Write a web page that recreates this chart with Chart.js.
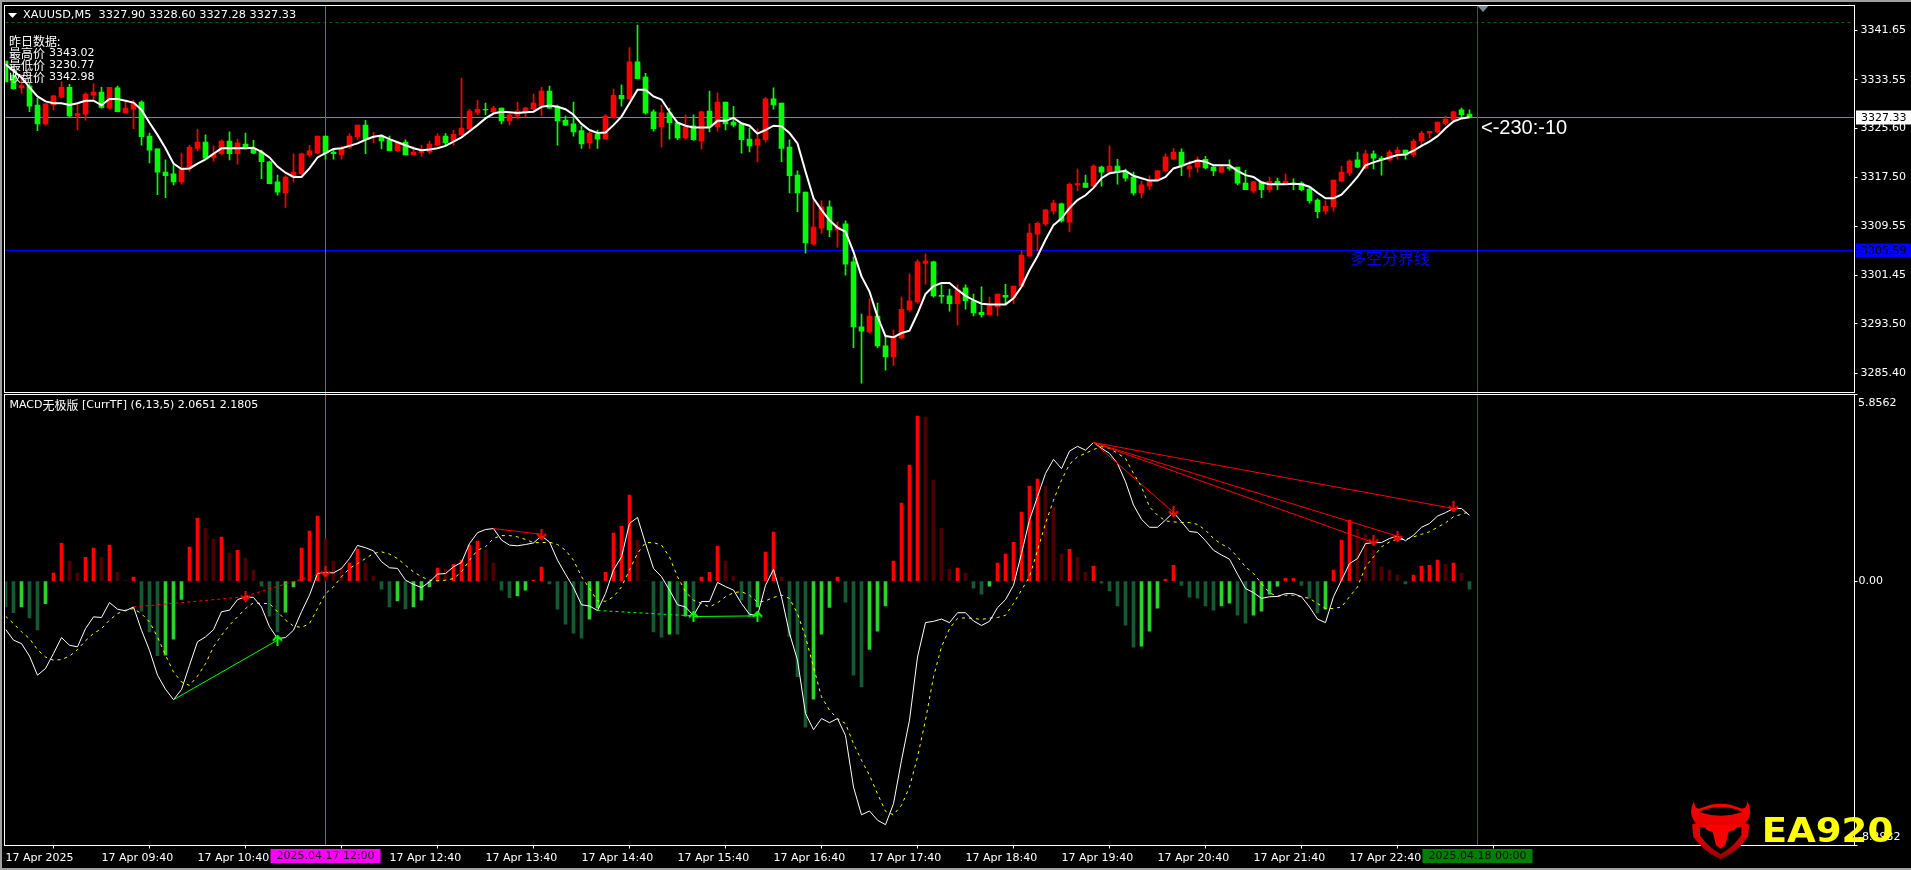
<!DOCTYPE html>
<html>
<head>
<meta charset="utf-8">
<title>XAUUSD,M5</title>
<script src="https://cdn.jsdelivr.net/npm/chart.js@4"></script>
<style>
  html, body { margin: 0; padding: 0; background: #000; overflow: hidden; }
  #page { position: relative; width: 1911px; height: 870px; background: #000; overflow: hidden; }
  #priceChart { position: absolute; left: 0; top: 0; }
  #macdChart { position: absolute; left: 0; top: 393px; }
  .edge { position: absolute; background: #a0a0a0; }
  #logo { position: absolute; left: 1680px; top: 790px; }
</style>
</head>
<body>
<div id="page">
  <canvas id="priceChart" width="1911" height="393"></canvas>
  <canvas id="macdChart" width="1911" height="477"></canvas>
  <div class="edge" style="left:0;top:0;width:1911px;height:2px"></div>
  <div class="edge" style="left:0;top:0;width:2px;height:870px"></div>
  <div class="edge" style="left:0;top:868px;width:1911px;height:2px"></div>
  <svg id="logo" width="231" height="80" viewBox="0 0 693 240">
    <defs>
      <linearGradient id="bull" x1="0" y1="0" x2="0" y2="1">
        <stop offset="0" stop-color="#ff0000"/>
        <stop offset="0.6" stop-color="#e00000"/>
        <stop offset="1" stop-color="#8c0000"/>
      </linearGradient>
    </defs>
    <path d="M42 34 Q22 72 48 100 L36 104 L40 140 Q70 185 122 208 Q174 185 204 140 L208 104 L196 100 Q222 72 202 34 Q200 62 180 54 Q122 28 64 54 Q44 62 42 34 Z" fill="url(#bull)"/>
    <path d="M56 66 Q122 36 188 66 Q122 88 56 66 Z" fill="#000"/>
    <path d="M60 112 L184 112 L184 136 Q160 172 122 192 Q84 172 60 136 Z" fill="#000"/>
    <path d="M70 106 L174 106 L164 120 L146 126 L136 166 L122 176 L108 166 L98 126 L80 120 Z" fill="#ff0000"/>
    <text x="245" y="155" font-family="DejaVu Sans" font-weight="bold" font-size="103" fill="#ffff00" textLength="395" lengthAdjust="spacingAndGlyphs">EA920</text>
  </svg>
</div>
<script>
// candles, one per 5 minutes from 08:40
const opens = [
  3336.6,3334.3,3332.2,3332.5,3329.4,3326.3,3329.4,3330.7,3332.3,3327.6,
  3327.9,3331.0,3331.5,3328.9,3332.2,3328.1,3328.7,3329.9,3324.3,3322.2,
  3318.4,3318.1,3316.8,3319.0,3322.3,3323.3,3320.8,3321.4,3323.5,3321.4,
  3323.0,3322.3,3321.7,3320.1,3316.8,3315.0,3317.6,3318.1,3321.2,3321.5,
  3324.3,3321.7,3321.2,3322.5,3324.2,3326.1,3324.1,3324.3,3323.7,3321.9,
  3323.3,3321.2,3321.6,3321.7,3322.8,3324.3,3323.5,3324.5,3325.5,3328.2,
  3328.7,3328.3,3328.9,3326.8,3327.6,3328.1,3328.7,3329.2,3331.7,3329.1,
  3326.9,3326.3,3325.2,3323.2,3324.6,3323.8,3327.3,3331.0,3330.4,3336.5,
  3334.0,3328.3,3325.8,3328.1,3326.5,3324.0,3326.0,3323.5,3328.4,3325.8,
  3329.9,3326.6,3326.3,3323.8,3322.8,3323.7,3330.4,3329.7,3322.5,3317.9,
  3315.1,3306.6,3309.2,3312.7,3308.9,3309.9,3303.7,3293.0,3292.2,3294.8,
  3289.9,3288.1,3291.2,3295.8,3297.1,3303.4,3303.7,3298.2,3298.1,3296.8,
  3299.4,3297.3,3295.4,3295.0,3296.3,3298.2,3297.8,3299.7,3304.6,3308.2,
  3309.9,3312.0,3313.2,3310.2,3316.3,3316.6,3316.1,3319.2,3318.4,3319.4,
  3318.4,3317.6,3315.0,3316.1,3317.1,3318.6,3320.5,3321.7,3318.9,3319.2,
  3320.5,3319.2,3318.4,3319.2,3319.2,3316.6,3315.3,3316.8,3315.5,3316.9,
  3316.4,3316.6,3316.6,3315.6,3313.8,3312.0,3312.7,3316.9,3318.3,3320.4,
  3319.1,3321.4,3320.7,3320.4,3321.5,3322.0,3321.2,3323.5,3324.8,3325.0,
  3326.4,3326.9,3328.6,3327.9
];
const closes = [
  3333.2,3332.1,3332.6,3329.2,3326.3,3329.6,3330.9,3332.3,3327.6,3328.0,
  3331.2,3331.5,3329.0,3332.3,3328.3,3328.9,3329.7,3324.2,3322.0,3318.4,
  3317.8,3316.8,3319.1,3322.5,3323.3,3320.7,3321.4,3323.5,3321.4,3323.2,
  3322.3,3321.5,3320.1,3316.5,3315.1,3317.6,3318.4,3321.4,3321.9,3324.3,
  3321.5,3321.4,3322.2,3324.3,3326.1,3323.8,3324.2,3323.5,3321.9,3323.3,
  3321.2,3321.7,3322.0,3323.0,3324.3,3323.2,3324.6,3325.6,3328.4,3328.7,
  3328.6,3328.9,3326.8,3327.8,3328.4,3328.9,3329.7,3331.7,3328.9,3326.8,
  3326.1,3325.0,3323.0,3324.8,3323.8,3327.6,3331.0,3330.4,3336.5,3333.7,
  3328.1,3325.5,3328.1,3326.5,3324.0,3325.8,3323.7,3328.3,3325.8,3329.9,
  3326.3,3326.1,3323.7,3322.7,3323.8,3330.4,3329.4,3322.3,3317.8,3315.0,
  3306.8,3309.4,3312.7,3308.9,3309.4,3303.3,3293.0,3292.3,3294.8,3289.9,
  3288.1,3291.4,3295.9,3297.3,3303.7,3303.8,3298.1,3298.0,3296.8,3299.1,
  3297.3,3295.3,3295.0,3296.4,3298.4,3297.9,3299.7,3304.8,3308.4,3310.0,
  3312.2,3313.3,3310.4,3316.4,3316.5,3315.9,3319.4,3318.4,3319.4,3318.3,
  3317.4,3315.0,3316.3,3316.9,3318.6,3320.9,3321.7,3319.4,3319.4,3320.4,
  3319.1,3318.6,3319.2,3319.0,3316.6,3315.5,3316.8,3315.5,3316.9,3316.4,
  3316.9,3316.5,3315.5,3313.7,3311.9,3312.8,3317.1,3318.4,3320.2,3319.2,
  3321.4,3320.7,3320.4,3321.7,3322.0,3321.2,3323.5,3324.8,3325.1,3326.6,
  3327.1,3328.3,3327.8,3327.33
];
const highs = [
  3336.6,3334.3,3334.3,3332.9,3330.5,3329.6,3331.0,3333.2,3332.8,3329.7,
  3331.4,3332.9,3332.3,3332.3,3332.5,3329.9,3330.2,3330.1,3324.8,3322.2,
  3320.4,3319.6,3321.5,3322.8,3325.4,3324.5,3322.7,3323.7,3325.0,3323.8,
  3324.8,3323.6,3322.0,3320.2,3317.9,3317.8,3321.4,3321.5,3322.8,3324.3,
  3324.3,3322.1,3322.6,3324.7,3326.1,3326.9,3324.9,3324.5,3324.3,3323.5,
  3323.7,3322.6,3322.8,3323.5,3324.7,3324.7,3325.3,3333.8,3328.7,3330.2,
  3329.7,3329.2,3328.9,3328.1,3329.9,3329.0,3331.2,3332.3,3332.5,3329.4,
  3327.6,3329.9,3325.9,3325.0,3325.3,3327.8,3332.0,3332.7,3338.8,3342.5,
  3334.6,3328.6,3329.4,3328.9,3326.6,3327.8,3327.8,3328.4,3331.7,3331.4,
  3329.9,3329.2,3326.4,3325.6,3325.5,3330.6,3332.2,3329.7,3323.7,3318.6,
  3315.1,3314.0,3313.7,3313.7,3310.2,3310.4,3304.5,3295.1,3297.6,3296.9,
  3291.7,3292.5,3297.9,3301.7,3304.0,3305.0,3303.8,3299.9,3299.2,3299.9,
  3299.9,3298.4,3299.6,3297.9,3298.4,3300.0,3299.7,3305.5,3309.9,3310.2,
  3312.3,3313.8,3313.3,3316.6,3318.9,3317.9,3319.6,3319.4,3322.7,3320.5,
  3318.9,3318.4,3316.9,3317.8,3318.7,3321.4,3322.3,3322.2,3320.2,3320.9,
  3321.0,3319.6,3319.4,3320.4,3319.2,3318.7,3316.9,3316.9,3317.6,3317.4,
  3318.1,3317.3,3316.8,3315.9,3314.0,3313.7,3317.1,3319.4,3320.4,3321.7,
  3322.0,3321.9,3321.0,3322.0,3322.5,3322.0,3323.8,3325.1,3325.1,3326.6,
  3327.6,3328.4,3328.9,3328.6
];
const lows = [
  3333.2,3332.0,3331.3,3328.3,3325.2,3326.1,3328.6,3330.7,3327.5,3325.3,
  3326.9,3330.2,3328.9,3328.7,3328.3,3328.1,3325.5,3322.8,3319.9,3314.7,
  3314.2,3316.3,3316.4,3318.5,3321.9,3320.6,3320.2,3321.2,3320.4,3319.7,
  3322.2,3321.4,3317.3,3316.5,3314.6,3312.6,3316.8,3318.0,3320.9,3321.4,
  3320.5,3320.5,3320.5,3322.3,3323.7,3321.4,3323.2,3322.2,3321.9,3321.7,
  3321.2,3321.2,3321.0,3321.4,3322.7,3322.8,3322.8,3324.5,3325.3,3327.8,
  3327.8,3328.1,3326.3,3326.1,3327.1,3327.4,3328.6,3327.6,3328.9,3322.8,
  3326.0,3324.3,3322.3,3322.3,3322.3,3323.8,3327.3,3329.2,3330.3,3333.7,
  3327.9,3325.1,3322.5,3323.8,3323.7,3323.8,3323.6,3322.2,3325.0,3325.1,
  3325.3,3325.8,3321.5,3321.7,3320.1,3323.3,3328.7,3320.1,3315.0,3311.9,
  3305.1,3306.4,3308.4,3307.8,3306.1,3301.5,3289.6,3283.8,3292.0,3289.6,
  3285.9,3286.7,3291.0,3295.6,3296.9,3300.0,3297.9,3296.9,3295.6,3293.3,
  3295.9,3294.8,3294.6,3295.0,3294.8,3296.8,3296.8,3299.7,3304.6,3305.5,
  3309.6,3311.5,3310.2,3308.6,3315.3,3315.9,3316.1,3316.1,3318.3,3316.4,
  3316.9,3314.6,3314.2,3315.5,3316.9,3318.4,3320.4,3317.8,3317.6,3318.4,
  3318.9,3317.8,3318.3,3318.7,3316.3,3315.5,3315.0,3314.2,3315.1,3315.5,
  3316.3,3315.5,3315.3,3313.3,3310.9,3311.5,3312.0,3316.8,3317.8,3319.1,
  3318.9,3318.9,3317.9,3320.2,3320.5,3320.5,3320.9,3322.8,3324.0,3324.8,
  3326.1,3326.8,3327.3,3327.28
];
const maLine = [
  3336.1,3335.0,3333.9,3332.3,3330.8,3330.0,3329.7,3329.7,3329.4,3329.7,
  3330.1,3330.1,3329.4,3330.4,3330.4,3330.1,3329.8,3328.6,3326.5,3324.5,
  3322.3,3319.8,3318.9,3319.0,3319.8,3320.5,3321.4,3322.3,3322.3,3322.3,
  3322.3,3322.4,3321.7,3320.8,3319.3,3318.3,3317.6,3317.6,3319.0,3320.8,
  3321.5,3322.2,3322.3,3322.7,3323.1,3323.7,3324.2,3324.4,3323.8,3323.3,
  3322.8,3322.3,3322.0,3322.1,3322.3,3322.7,3323.4,3324.1,3325.1,3326.1,
  3327.2,3328.0,3328.3,3328.2,3328.1,3328.2,3328.3,3329.1,3329.3,3329.1,
  3328.7,3327.8,3326.3,3325.3,3324.8,3324.9,3326.1,3327.5,3329.7,3331.9,
  3331.9,3330.8,3330.3,3328.3,3326.5,3326.0,3325.7,3325.7,3325.7,3326.8,
  3326.8,3327.3,3326.4,3326.0,3324.7,3325.3,3326.0,3325.9,3324.8,3323.1,
  3318.5,3314.1,3312.2,3310.5,3309.3,3308.6,3305.3,3301.3,3298.8,3294.7,
  3291.5,3291.3,3292.0,3292.4,3295.2,3298.4,3299.7,3300.2,3300.2,3299.1,
  3298.1,3297.4,3296.8,3296.7,3296.7,3296.7,3297.7,3299.6,3302.3,3304.6,
  3307.3,3309.7,3310.8,3312.5,3313.8,3314.6,3315.8,3317.4,3318.2,3318.4,
  3318.6,3317.8,3317.4,3317.0,3317.0,3317.6,3319.0,3319.4,3319.9,3320.3,
  3320.1,3319.5,3319.5,3319.5,3318.6,3317.9,3317.6,3316.7,3316.4,3316.4,
  3316.4,3316.5,3316.4,3316.0,3315.0,3314.1,3314.1,3314.7,3316.1,3317.6,
  3319.5,3320.0,3320.4,3320.8,3321.2,3321.3,3321.9,3322.7,3323.4,3324.3,
  3325.6,3326.7,3327.2,3327.4
];

// MACD panel
const histValues = [
  -0.81,-0.99,-0.81,-1.15,-1.53,-0.71,0.25,1.19,0.63,0.25,
  0.75,1.04,0.75,1.13,0.28,0.02,0.13,-0.94,-1.59,-2.34,
  -2.32,-1.82,-0.57,1.07,1.98,1.66,1.32,1.38,0.88,0.97,
  0.72,0.35,-0.16,-1.10,-1.59,-0.97,-0.18,1.04,1.57,2.04,
  1.32,0.63,0.41,0.57,1.00,0.57,0.16,-0.25,-0.81,-0.62,
  -0.87,-0.81,-0.60,-0.18,0.41,0.38,0.53,0.66,1.13,1.26,
  0.97,0.57,-0.28,-0.52,-0.46,-0.28,0.03,0.44,-0.09,-0.88,
  -1.35,-1.63,-1.79,-1.19,-0.85,0.28,1.51,1.73,2.70,1.29,
  0.02,-1.59,-1.76,-1.66,-1.66,-1.10,-1.02,0.13,0.28,1.10,
  0.63,0.16,-0.60,-1.12,-0.81,0.91,1.54,0.13,-1.73,-3.00,
  -4.58,-3.70,-1.66,-0.82,0.13,-0.66,-2.95,-3.32,-2.14,-1.57,
  -0.78,0.63,2.45,3.64,5.18,5.15,3.17,1.66,0.38,0.41,
  0.25,-0.22,-0.41,-0.16,0.57,0.85,1.22,2.17,2.98,3.20,
  2.98,2.32,0.85,1.00,0.75,0.28,0.47,-0.06,-0.31,-0.78,
  -1.38,-2.07,-2.04,-1.57,-0.85,0.06,0.50,-0.13,-0.50,-0.53,
  -0.78,-0.91,-0.78,-0.69,-1.07,-1.32,-1.07,-0.94,-0.41,-0.16,
  0.09,0.09,-0.13,-0.53,-1.00,-0.88,0.35,1.29,1.92,1.63,
  1.48,0.97,0.44,0.35,0.19,-0.09,0.19,0.47,0.50,0.66,
  0.53,0.57,0.25,-0.25
];
// R bright red, D dark red, G bright green, H dark green
const histKinds = (
  'HHGHHGRRDD' + 'RRDRDDRHHH' + 'GGGRRDDRDR' + 'DDHHHGGRRR' + 'DDDRRDDHHG' + 'HGGGRDRRRR' +
  'DDHHGGRRHH' + 'HHHGGRRRRD' + 'DHHGHGHRRR' + 'DDHHGRRDHH' + 'HGGGRHHHGG' + 'GRRRRDDDDR' +
  'DHHGRRRRRR' + 'DDDRDDRHHH' + 'HHGGGRRHHH' + 'HHGGHHGGGG' + 'RRHHHGRRRD' + 'DDDDDHRRRR' +
  'DRDH'
).split('');
const macdLine = [
  -1.51,-1.85,-1.96,-2.35,-2.95,-2.74,-2.27,-1.77,-2.01,-2.06,
  -1.49,-1.12,-1.14,-0.67,-0.88,-0.93,-0.81,-1.54,-2.17,-2.95,
  -3.39,-3.72,-3.40,-2.64,-1.90,-1.75,-1.52,-0.96,-0.91,-0.58,
  -0.49,-0.51,-0.81,-1.43,-1.80,-1.77,-1.54,-0.96,-0.44,0.24,
  0.27,0.26,0.40,0.71,1.12,1.05,0.95,0.61,0.42,0.40,
  0.03,-0.10,-0.20,-0.02,0.22,0.24,0.45,0.59,1.18,1.52,
  1.62,1.65,1.29,1.13,1.11,1.15,1.20,1.42,1.23,0.66,
  0.22,-0.20,-0.74,-0.78,-0.92,-0.39,0.35,0.76,1.81,2.00,
  1.18,0.40,0.14,-0.28,-0.74,-0.81,-1.08,-0.64,-0.64,-0.04,
  -0.17,-0.28,-0.70,-1.04,-1.08,-0.13,0.37,-0.49,-1.64,-2.48,
  -4.15,-4.66,-4.31,-4.44,-4.31,-4.84,-6.46,-7.33,-7.21,-7.50,
  -7.64,-6.98,-5.62,-4.36,-2.38,-1.30,-1.26,-1.19,-1.30,-0.99,
  -0.99,-1.25,-1.39,-1.26,-0.83,-0.58,-0.13,0.87,1.92,2.65,
  3.38,3.82,3.53,4.08,4.23,4.11,4.35,4.17,4.01,3.69,
  3.12,2.39,1.94,1.69,1.69,1.92,2.16,1.86,1.56,1.53,
  1.27,0.97,0.82,0.69,0.22,-0.23,-0.36,-0.54,-0.49,-0.48,
  -0.39,-0.39,-0.49,-0.81,-1.19,-1.30,-0.49,0.03,0.55,0.71,
  1.18,1.21,1.21,1.34,1.41,1.27,1.44,1.69,1.81,2.04,
  2.15,2.28,2.28,2.0651
];
const signalLine = [
  -1.10,-1.33,-1.59,-1.80,-2.15,-2.38,-2.48,-2.46,-2.35,-2.15,
  -1.87,-1.64,-1.49,-1.22,-1.02,-0.91,-0.86,-1.02,-1.28,-1.75,
  -2.32,-2.85,-3.16,-3.27,-2.98,-2.59,-2.06,-1.70,-1.38,-1.12,
  -0.86,-0.68,-0.70,-0.70,-0.96,-1.22,-1.41,-1.45,-1.33,-0.86,
  -0.39,-0.18,0.14,0.40,0.55,0.71,0.87,0.92,0.85,0.71,
  0.50,0.29,0.14,0.03,0.01,0.03,0.08,0.29,0.66,0.97,
  1.08,1.34,1.43,1.43,1.39,1.31,1.21,1.21,1.22,1.15,
  0.97,0.66,0.14,-0.23,-0.62,-0.63,-0.49,-0.18,0.35,0.87,
  1.21,1.21,1.13,0.76,0.14,-0.33,-0.60,-0.70,-0.81,-0.68,
  -0.49,-0.36,-0.33,-0.44,-0.66,-0.62,-0.51,-0.44,-0.54,-1.02,
  -1.75,-2.69,-3.63,-4.05,-4.31,-4.47,-5.10,-5.62,-6.09,-6.67,
  -7.22,-7.33,-7.03,-6.46,-5.52,-4.36,-3.00,-2.06,-1.49,-1.17,
  -1.15,-1.17,-1.20,-1.16,-1.14,-1.07,-0.70,-0.28,0.14,0.97,
  1.81,2.54,3.17,3.67,3.90,4.01,4.13,4.22,4.17,4.01,
  3.85,3.38,2.96,2.33,2.07,1.89,1.86,1.84,1.84,1.78,
  1.60,1.34,1.16,1.03,0.76,0.45,0.24,-0.07,-0.37,-0.47,
  -0.44,-0.44,-0.49,-0.54,-0.70,-0.86,-0.86,-0.81,-0.49,-0.18,
  0.45,0.76,1.08,1.23,1.32,1.31,1.39,1.47,1.55,1.69,
  1.83,2.02,2.10,2.1805
];
// divergence lines: from bar, from value, to bar, to value
const redSolidLines = [[61,1.65,67,1.47],[136,4.35,146,2.16],[136,4.35,171,1.21],[136,4.35,174,1.41],[136,4.35,181,2.28]];
const redDashedLines = [[16,-0.81,30,-0.49],[30,-0.47,40,0.29]];
const greenSolidLines = [[21,-3.72,34,-1.85],[86,-1.11,94,-1.09]];
const greenDashedLines = [[74,-0.92,86,-1.09]];
const sellArrowBars = [30,40,67,146,171,174,181];
const sellArrowValues = [-0.47,0.29,1.47,2.18,1.29,1.41,2.33];
const buyArrowBars = [34,86,94];
const buyArrowValues = [-1.85,-1.12,-1.10];

// axes
const priceTicks = [3341.65,3333.55,3325.60,3317.50,3309.55,3301.45,3293.50,3285.40];
const macdTicks = [5.8562,0,-8.2932];
const timeTickBars = [0,12,24,36,48,60,72,84,96,108,120,132,144,156,168,180];
const timeTickLabels = ['17 Apr 2025','17 Apr 09:40','17 Apr 10:40','','17 Apr 12:40','17 Apr 13:40','17 Apr 14:40','17 Apr 15:40','17 Apr 16:40','17 Apr 17:40','17 Apr 18:40','17 Apr 19:40','17 Apr 20:40','17 Apr 21:40','17 Apr 22:40',''];
const lastBarCount = 231.125;
const magentaBar = 40;
const greenBar = 184;
const bidPrice = 3327.33;
const pivotPrice = 3305.59;
const prevClose = 3342.98;

const UI_FONT = '"DejaVu Sans", "Noto Sans CJK SC", sans-serif';
const CJK_FONT = '"Noto Sans CJK SC", "DejaVu Sans", sans-serif';
const histColors = { R: '#ff0000', D: '#500000', G: '#32cd32', H: '#145a32' };

const toPoints = (arr) => arr.map((v, i) => ({ x: i, y: v }));

function segmentDatasets(lines, color, dash) {
  return lines.map((l) => ({
    type: 'line',
    data: [{ x: l[0], y: l[1] }, { x: l[2], y: l[3] }],
    borderColor: color,
    borderWidth: 1,
    borderDash: dash,
    pointRadius: 0,
    order: 1
  }));
}

function arrowCanvas(color, up) {
  const c = document.createElement('canvas');
  c.width = 11;
  c.height = 11;
  const g = c.getContext('2d');
  g.strokeStyle = color;
  g.lineWidth = 2;
  g.beginPath();
  if (up) {
    g.moveTo(5.5, 11); g.lineTo(5.5, 1);
    g.moveTo(1, 6); g.lineTo(5.5, 1); g.lineTo(10, 6);
  } else {
    g.moveTo(5.5, 0); g.lineTo(5.5, 10);
    g.moveTo(1, 5); g.lineTo(5.5, 10); g.lineTo(10, 5);
  }
  g.stroke();
  return c;
}

function crispY(scale, v) {
  return Math.floor(scale.getPixelForValue(v)) + 0.5;
}

function hLine(chart, v, color, dash) {
  const { ctx, chartArea, scales } = chart;
  const y = crispY(scales.y, v);
  ctx.save();
  ctx.strokeStyle = color;
  ctx.lineWidth = 1;
  ctx.setLineDash(dash || []);
  ctx.beginPath();
  ctx.moveTo(chartArea.left, y);
  ctx.lineTo(chartArea.right, y);
  ctx.stroke();
  ctx.restore();
}

function vLine(chart, bar, color, y1, y2) {
  const { ctx, scales } = chart;
  const x = scales.x.getPixelForValue(bar);
  ctx.save();
  ctx.strokeStyle = color;
  ctx.lineWidth = 1;
  ctx.beginPath();
  ctx.moveTo(x, y1);
  ctx.lineTo(x, y2);
  ctx.stroke();
  ctx.restore();
}

function text(ctx, str, x, y, font, color, align) {
  ctx.font = font;
  ctx.fillStyle = color;
  ctx.textAlign = align || 'left';
  ctx.textBaseline = 'middle';
  ctx.fillText(str, x, y);
}

function priceTag(chart, v, bg) {
  const { ctx, scales } = chart;
  const y = crispY(scales.y, v);
  ctx.fillStyle = bg;
  ctx.fillRect(1856, y - 7, 55, 14);
  text(ctx, v.toFixed(2), 1861, y + 0.5, '11px ' + UI_FONT, '#000');
}

function frame(chart) {
  const { ctx, chartArea } = chart;
  ctx.strokeStyle = '#fff';
  ctx.lineWidth = 1;
  ctx.strokeRect(4.5, chartArea.top, chartArea.right - 4.5, chartArea.bottom - chartArea.top);
}

function noLabelMargin(axis) {
  axis.paddingTop = 0;
  axis.paddingBottom = 0;
  axis.paddingLeft = 0;
  axis.paddingRight = 0;
}

const pricePlugin = {
  id: 'pricePlugin',
  beforeDatasetsDraw(chart) {
    hLine(chart, prevClose, '#006400', [3, 3]);
    hLine(chart, bidPrice, '#778899');
    hLine(chart, pivotPrice, '#0000ff');
    vLine(chart, magentaBar, '#ff00ff', chart.chartArea.top, 393);
    vLine(chart, greenBar, '#008000', chart.chartArea.top, 393);
  },
  afterDraw(chart) {
    const ctx = chart.ctx;
    frame(chart);
    ctx.save();
    // little triangles
    ctx.fillStyle = '#fff';
    ctx.beginPath();
    ctx.moveTo(8, 13); ctx.lineTo(17, 13); ctx.lineTo(12.5, 18);
    ctx.fill();
    const gx = chart.scales.x.getPixelForValue(greenBar);
    ctx.fillStyle = '#778899';
    ctx.beginPath();
    ctx.moveTo(gx, 6); ctx.lineTo(gx + 11, 6); ctx.lineTo(gx + 5.5, 12);
    ctx.fill();
    const uiFont = '11px ' + UI_FONT;
    text(ctx, 'XAUUSD,M5  3327.90 3328.60 3327.28 3327.33', 23, 15.5, '11.3px ' + UI_FONT, '#fff');
    text(ctx, '昨日数据:', 9, 41, '12px ' + CJK_FONT, '#fff');
    text(ctx, '最高价', 9, 53, '12px ' + CJK_FONT, '#fff');
    text(ctx, '3343.02', 49, 53, uiFont, '#fff');
    text(ctx, '最低价', 9, 65, '12px ' + CJK_FONT, '#fff');
    text(ctx, '3230.77', 49, 65, uiFont, '#fff');
    text(ctx, '收盘价', 9, 77, '12px ' + CJK_FONT, '#fff');
    text(ctx, '3342.98', 49, 77, uiFont, '#fff');
    text(ctx, '<-230:-10', 1481, 128.5, '20px "Liberation Sans"', '#fff');
    text(ctx, '多空分界线', 1350, 258, '16px ' + CJK_FONT, '#0000ff');
    priceTag(chart, bidPrice, '#fff');
    priceTag(chart, pivotPrice, '#0000ff');
    ctx.restore();
  }
};

const macdPlugin = {
  id: 'macdPlugin',
  beforeDatasetsDraw(chart) {
    vLine(chart, magentaBar, '#ff00ff', 0, chart.chartArea.bottom);
    vLine(chart, greenBar, '#008000', 0, chart.chartArea.bottom);
  },
  afterDraw(chart) {
    const ctx = chart.ctx;
    const x = chart.scales.x;
    const uiFont = '11px ' + UI_FONT;
    frame(chart);
    ctx.save();
    ctx.font = uiFont;
    let tx = 9.5;
    text(ctx, 'MACD', tx, 12.5, uiFont, '#fff');
    tx += ctx.measureText('MACD').width;
    text(ctx, '无极版', tx, 12, '12px ' + CJK_FONT, '#fff');
    tx += 36;
    text(ctx, ' [CurrTF] (6,13,5) 2.0651 2.1805', tx, 12.5, uiFont, '#fff');
    // top and bottom scale values sit inside the panel
    text(ctx, '5.8562', 1858, 10.5, uiFont, '#fff');
    text(ctx, '-8.2932', 1858, 444, uiFont, '#fff');
    // date markers on the time axis
    ctx.fillStyle = '#ff00ff';
    ctx.fillRect(x.getPixelForValue(magentaBar) - 55, 456, 110, 14);
    text(ctx, '2025.04.17 12:00', x.getPixelForValue(magentaBar), 463.5, uiFont, '#222', 'center');
    ctx.fillStyle = '#008000';
    ctx.fillRect(x.getPixelForValue(greenBar) - 55, 456, 110, 14);
    text(ctx, '2025.04.18 00:00', x.getPixelForValue(greenBar), 463.5, uiFont, '#111', 'center');
    ctx.restore();
  }
};

const candleColors = opens.map((o, i) => (closes[i] >= o ? '#ff0000' : '#00ff00'));

new Chart(document.getElementById('priceChart'), {
  type: 'bar',
  data: {
    datasets: [
      {
        type: 'line',
        data: toPoints(maLine),
        borderColor: '#fff',
        borderWidth: 2,
        pointRadius: 0,
        order: 1
      },
      {
        data: opens.map((o, i) => ({ x: i, y: [o, closes[i]] })),
        backgroundColor: candleColors,
        borderWidth: 0,
        barThickness: 5,
        grouped: false,
        order: 2
      },
      {
        data: lows.map((l, i) => ({ x: i, y: [l, highs[i]] })),
        backgroundColor: candleColors,
        borderWidth: 0,
        barThickness: 1,
        grouped: false,
        order: 3
      }
    ]
  },
  options: {
    responsive: false,
    animation: false,
    devicePixelRatio: 1,
    layout: { autoPadding: false, padding: { left: 5.5, top: 5.5, bottom: 0.5, right: 0 } },
    plugins: { legend: { display: false }, tooltip: { enabled: false } },
    scales: {
      x: { type: 'linear', display: false, offset: false, min: 0, max: lastBarCount, grid: { display: false } },
      y: {
        position: 'right',
        min: 3282.25,
        max: 3345.72,
        afterBuildTicks: (axis) => { axis.ticks = priceTicks.map((v) => ({ value: v })); },
        afterFit: (axis) => { axis.width = 56.5; noLabelMargin(axis); },
        grid: { drawOnChartArea: false, tickLength: 3, tickColor: '#fff' },
        border: { display: false },
        ticks: {
          color: '#fff',
          padding: 3,
          font: { family: UI_FONT, size: 11 },
          callback: (v) => Number(v).toFixed(2)
        }
      }
    }
  },
  plugins: [pricePlugin]
});

new Chart(document.getElementById('macdChart'), {
  type: 'bar',
  data: {
    datasets: [
      {
        type: 'line',
        data: sellArrowBars.map((b, i) => ({ x: b, y: sellArrowValues[i] })),
        showLine: false,
        pointStyle: arrowCanvas('#ff0000', false),
        order: 0
      },
      {
        type: 'line',
        data: buyArrowBars.map((b, i) => ({ x: b, y: buyArrowValues[i] })),
        showLine: false,
        pointStyle: arrowCanvas('#00ff00', true),
        order: 0
      },
      ...segmentDatasets(redSolidLines, '#ff0000', []),
      ...segmentDatasets(redDashedLines, '#ff0000', [3, 3]),
      ...segmentDatasets(greenSolidLines, '#00ff00', []),
      ...segmentDatasets(greenDashedLines, '#00ff00', [3, 3]),
      {
        type: 'line',
        data: toPoints(macdLine),
        borderColor: '#fff',
        borderWidth: 1,
        pointRadius: 0,
        order: 2
      },
      {
        type: 'line',
        data: toPoints(signalLine),
        borderColor: '#ffff00',
        borderWidth: 1,
        borderDash: [3, 4],
        pointRadius: 0,
        order: 3
      },
      {
        data: toPoints(histValues),
        backgroundColor: histKinds.map((k) => histColors[k]),
        borderWidth: 0,
        barThickness: 3,
        grouped: false,
        order: 4
      }
    ]
  },
  options: {
    responsive: false,
    animation: false,
    devicePixelRatio: 1,
    layout: { autoPadding: false, padding: { left: 5.5, top: 1.5, bottom: 0, right: 0 } },
    plugins: { legend: { display: false }, tooltip: { enabled: false } },
    scales: {
      x: {
        type: 'linear',
        offset: false,
        min: 0,
        max: lastBarCount,
        afterBuildTicks: (axis) => { axis.ticks = timeTickBars.map((v) => ({ value: v })); },
        afterFit: (axis) => { axis.height = 24.5; noLabelMargin(axis); },
        grid: { drawOnChartArea: false, tickLength: 3, tickColor: '#fff' },
        border: { display: false },
        ticks: {
          color: '#fff',
          autoSkip: false,
          maxRotation: 0,
          align: 'start',
          padding: 3,
          font: { family: UI_FONT, size: 11 },
          callback: (v) => timeTickLabels[timeTickBars.indexOf(v)]
        }
      },
      y: {
        position: 'right',
        min: macdTicks[2],
        max: macdTicks[0],
        afterBuildTicks: (axis) => { axis.ticks = macdTicks.map((v) => ({ value: v })); },
        afterFit: (axis) => { axis.width = 56.5; noLabelMargin(axis); },
        grid: { drawOnChartArea: false, tickLength: 3, tickColor: '#fff' },
        border: { display: false },
        ticks: {
          color: '#fff',
          padding: 1,
          font: { family: UI_FONT, size: 11 },
          callback: (v) => (v === 0 ? '0.00' : '')
        }
      }
    }
  },
  plugins: [macdPlugin]
});
</script>
</body>
</html>
